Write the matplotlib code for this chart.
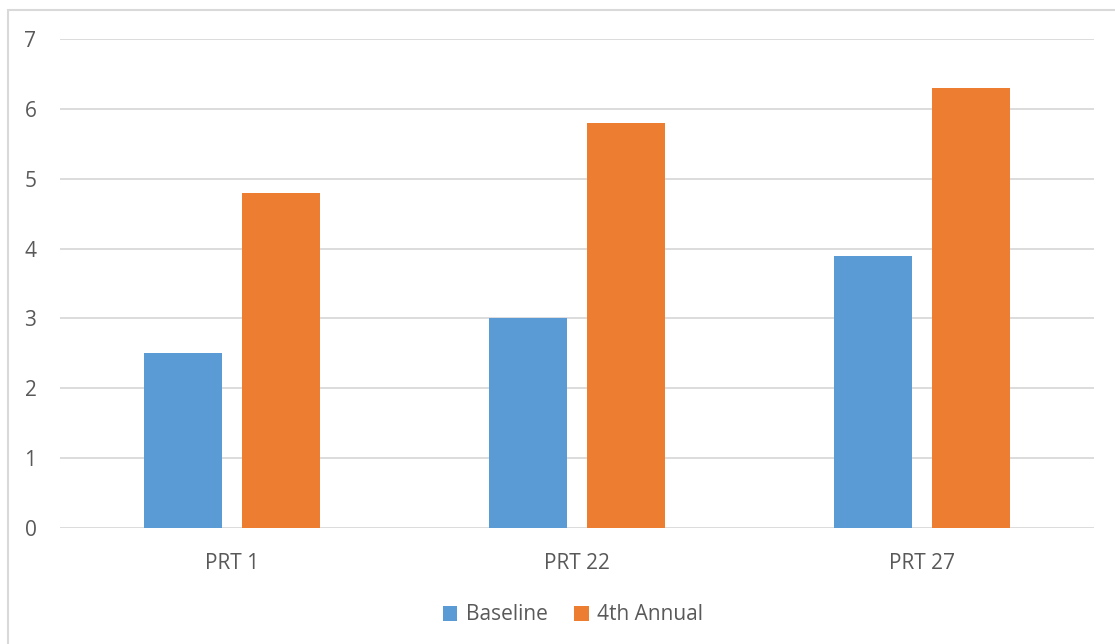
import matplotlib
matplotlib.use("Agg")
import matplotlib.pyplot as plt
from matplotlib.patches import Rectangle
import numpy as np

categories = ["PRT 1", "PRT 22", "PRT 27"]
baseline = [2.5, 3.0, 3.9]
annual_4th = [4.8, 5.8, 6.3]
series_names = ["Baseline", "4th Annual"]
y_ticks = [0, 1, 2, 3, 4, 5, 6, 7]

BLUE = "#5B9BD5"
ORANGE = "#ED7D31"
TEXT = "#595959"
GRID = "#D9D9D9"

plt.rcParams["font.family"] = ["Open Sans", "DejaVu Sans"]

W, H = 1115, 644
fig = plt.figure(figsize=(W / 100, H / 100), dpi=100)
fig.patch.set_facecolor("white")

# outer chart border
fig.patches.append(Rectangle((8 / W, -0.05), 1.2, 1 - 10 / H + 0.05,
                             transform=fig.transFigure, fill=False,
                             edgecolor=GRID, linewidth=1.5))

ax = fig.add_axes([60 / W, 1 - 528 / H, (1094 - 60) / W, (528 - 39) / H])
x = np.arange(len(categories))
bw = 0.226
off = 0.142
ax.bar(x - off, baseline, bw, color=BLUE, label=series_names[0], zorder=3)
ax.bar(x + off, annual_4th, bw, color=ORANGE, label=series_names[1], zorder=3)

ax.set_xlim(-0.5, len(categories) - 0.5)
ax.set_ylim(0, 7)
ax.set_yticks(y_ticks)
ax.set_xticks(x)
ax.set_xticklabels(categories)
ax.tick_params(axis="both", length=0, labelsize=15, labelcolor=TEXT)
ax.tick_params(axis="y", pad=17)
ax.tick_params(axis="x", pad=18)
ax.grid(axis="y", color=GRID, linewidth=1.3, zorder=0)
for s in ax.spines.values():
    s.set_visible(False)

leg = fig.legend(loc="center", bbox_to_anchor=(573 / W, 1 - 615 / H), ncol=2,
                 frameon=False, fontsize=15, handlelength=0.7, handleheight=0.7,
                 handletextpad=0.4, columnspacing=1.3)
for t in leg.get_texts():
    t.set_color(TEXT)

fig.savefig("out.png", dpi=100, facecolor="white")
